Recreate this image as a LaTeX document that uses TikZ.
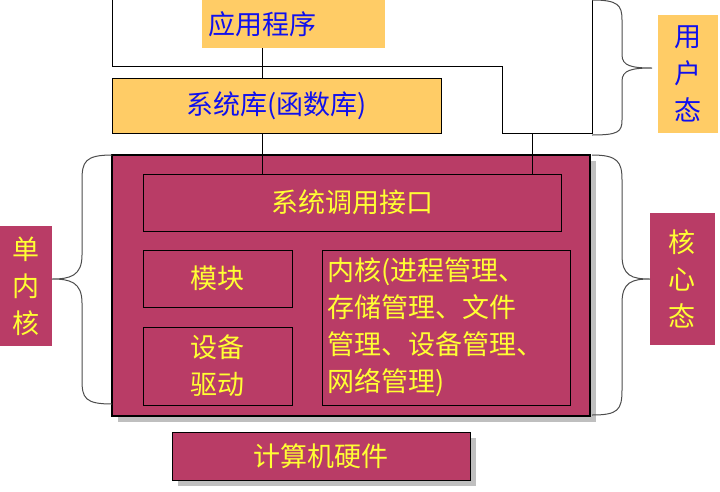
\documentclass[tikz,border=0pt]{standalone}
\usepackage{fontspec}
\newfontfamily\cjk{Noto Sans CJK SC}
\definecolor{mar}{HTML}{B93C66}
\definecolor{org}{HTML}{FFCC66}
\definecolor{ylw}{HTML}{FFFF33}
\definecolor{blu}{HTML}{1010EE}
\begin{document}
\begin{tikzpicture}[x=1pt,y=-1pt,
  mbox/.style={draw=black,fill=mar,line width=0.8pt,text=ylw,font=\cjk\fontsize{27}{37}\selectfont,inner sep=0pt},
  obox/.style={fill=org,text=blu,font=\cjk\fontsize{27}{37}\selectfont,inner sep=0pt},
  ln/.style={draw=black,line width=0.8pt},
  br/.style={draw=black!70,line width=1pt}]
\useasboundingbox (0,0) rectangle (720,491);
% top outline
\draw[ln] (112,0) -- (112,66) -- (502,66) -- (502,133) -- (592,133) -- (592,0);
\node[obox,minimum width=183pt,minimum height=48pt,text width=170pt,align=left] (app) at (293.5,24) {应用程序};
\node[obox,draw=black,line width=0.8pt,minimum width=329pt,minimum height=55pt] (lib) at (276.5,105.5) {系统库(函数库)};
% kernel
\fill[black!25] (118,161) rectangle (596,422);
\node[mbox,line width=2pt,minimum width=478pt,minimum height=261pt] (ker) at (351,285.5) {};
\coordinate (c1) at (532,133);
\draw[ln] (app.south -| 262,0) -- (lib.north -| 262,0);
\draw[ln] (lib.south -| 262,0) -- (ker.north -| 262,0);
\draw[ln] (c1) -- (c1 |- ker.north);
\node[mbox,minimum width=418pt,minimum height=57pt] (sci) at (352,202.5) {系统调用接口};
\draw[ln] (262,155) -- (262,174);
\draw[ln] (532,155) -- (532,174);
\node[mbox,minimum width=149pt,minimum height=57pt] (mod) at (217.5,278.5) {模块};
\node[mbox,minimum width=149pt,minimum height=78pt,align=center] (drv) at (217.5,366) {设备\\驱动};
\node[mbox,minimum width=248pt,minimum height=155pt,align=left,text width=238pt] (core) at (446,327.5) {内核(进程管理、\\存储管理、文件\\管理、设备管理、\\网络管理)};
\fill[black!25] (178,438) rectangle (476,486);
\node[mbox,minimum width=298pt,minimum height=48pt] (hw) at (321,456) {计算机硬件};
% side labels
\node[mbox,draw=none,minimum width=52pt,minimum height=120pt,align=center] (dnh) at (26,286) {单\\内\\核};
\node[obox,minimum width=60pt,minimum height=118pt,align=center] (yht) at (688,74) {用\\户\\态};
\node[mbox,draw=none,minimum width=65pt,minimum height=132pt,align=center] (hxt) at (682,279) {核\\心\\态};
% braces
\draw[br] (112,155) .. controls (85,155) and (82,162) .. (82,180) -- (82,255) .. controls (82,276) and (70,279) .. (52,279)
  .. controls (70,279) and (82,282) .. (82,303) -- (82,380) .. controls (82,398) and (85,404) .. (112,404);
\draw[br] (592,0) .. controls (618,0) and (622,5) .. (622,20) -- (622,55) .. controls (622,66) and (632,68) .. (652,68)
  .. controls (632,68) and (622,70) .. (622,81) -- (622,120) .. controls (622,132) and (618,135) .. (592,135);
\draw[br] (592,155) .. controls (618,155) and (622,162) .. (622,180) -- (622,255) .. controls (622,276) and (632,279) .. (650,279)
  .. controls (632,279) and (622,282) .. (622,303) -- (622,390) .. controls (622,410) and (618,415) .. (592,415);
\end{tikzpicture}
\end{document}
